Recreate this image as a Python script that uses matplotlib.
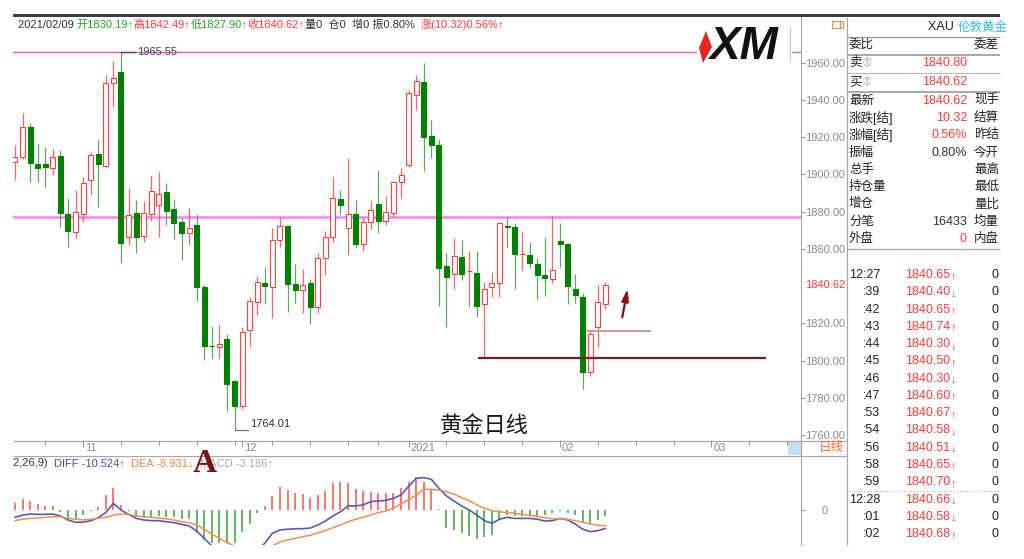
import matplotlib
matplotlib.use("Agg")
import matplotlib.pyplot as plt
from matplotlib.patches import Rectangle, Polygon
import numpy as np
import pandas as pd

plt.rcParams["font.family"] = ["Liberation Sans", "Noto Sans CJK SC", "DejaVu Sans"]

W, H = 1024, 559

# daily XAU candles, 2020-10-20 .. 2021-02-09
opens = [1906.8, 1909.5, 1925.3, 1905.6, 1905.4, 1903.6, 1909.9, 1878.6, 1868.9, 1878.7,
         1897.0, 1910.8, 1904.5, 1948.9, 1955.2, 1866.2, 1879.1, 1867.1, 1878.7, 1883.6,
         1890.7, 1881.4, 1874.6, 1868.7, 1872.8, 1839.7, 1808.4, 1807.5, 1811.4, 1789.1,
         1775.8, 1816.4, 1831.6, 1841.8, 1839.4, 1864.8, 1872.5, 1841.2, 1837.9, 1841.5,
         1828.9, 1854.9, 1866.2, 1886.8, 1871.1, 1878.7, 1862.6, 1874.6, 1884.1, 1875.1,
         1879.1, 1896.1, 1905.1, 1942.7, 1949.8, 1920.6, 1915.8, 1850.8, 1846.5, 1855.8,
         1847.6, 1847.2, 1830.2, 1839.7, 1841.8, 1872.3, 1871.9, 1856.9, 1856.7, 1851.9,
         1846.0, 1843.7, 1864.4, 1862.5, 1838.3, 1834.3, 1794.0, 1818.2, 1830.19]
highs = [1915.8, 1933.1, 1927.8, 1916.2, 1914.9, 1913.5, 1913.1, 1887.2, 1891.6, 1898.8,
         1912.2, 1918.5, 1953.4, 1961.1, 1965.55, 1892.9, 1886.3, 1885.7, 1899.2, 1901.1,
         1895.6, 1886.6, 1876.4, 1882.1, 1878.6, 1840.5, 1818.6, 1819.1, 1814.3, 1789.8,
         1818.2, 1834.3, 1845.4, 1850.1, 1871.1, 1877.3, 1872.8, 1851.9, 1849.0, 1843.7,
         1857.6, 1869.8, 1898.8, 1891.6, 1908.7, 1886.3, 1877.3, 1885.7, 1902.4, 1888.4,
         1896.6, 1903.3, 1945.3, 1953.4, 1959.7, 1929.2, 1918.9, 1857.6, 1865.7, 1864.8,
         1859.0, 1859.0, 1842.4, 1846.9, 1874.6, 1877.3, 1873.8, 1869.8, 1863.5, 1855.0,
         1866.2, 1877.7, 1873.8, 1863.0, 1846.5, 1836.5, 1816.1, 1840.6, 1842.49]
lows = [1897.0, 1908.5, 1896.1, 1896.1, 1893.4, 1899.7, 1871.9, 1861.2, 1865.7, 1874.6,
        1889.0, 1882.7, 1903.3, 1936.4, 1852.3, 1862.1, 1857.6, 1863.9, 1875.1, 1866.4,
        1872.8, 1865.2, 1854.0, 1862.1, 1832.2, 1800.3, 1801.2, 1801.2, 1773.0, 1764.01,
        1773.9, 1807.8, 1824.5, 1830.8, 1822.7, 1861.2, 1826.3, 1830.8, 1825.4, 1819.7,
        1825.7, 1846.0, 1863.9, 1878.7, 1857.3, 1860.3, 1859.0, 1870.7, 1868.7, 1872.8,
        1877.3, 1887.2, 1904.1, 1934.6, 1902.0, 1908.7, 1829.3, 1817.9, 1838.3, 1843.3,
        1829.3, 1823.6, 1802.1, 1834.3, 1834.3, 1860.3, 1838.3, 1848.7, 1850.0, 1832.9,
        1834.7, 1841.5, 1850.4, 1830.4, 1831.1, 1784.6, 1791.7, 1807.5, 1827.90]
closes = [1909.5, 1925.3, 1906.0, 1903.6, 1903.8, 1909.5, 1879.4, 1869.8, 1880.0, 1895.6,
          1910.3, 1905.4, 1949.3, 1951.6, 1863.3, 1878.2, 1866.6, 1879.1, 1891.3, 1889.5,
          1880.5, 1874.1, 1868.4, 1871.1, 1839.4, 1808.0, 1808.0, 1808.8, 1787.4, 1775.8,
          1815.5, 1832.0, 1842.0, 1840.2, 1864.8, 1872.3, 1841.2, 1837.9, 1840.6, 1828.6,
          1854.9, 1866.2, 1887.2, 1883.6, 1878.7, 1862.6, 1874.6, 1880.9, 1875.1, 1879.7,
          1895.8, 1899.7, 1943.6, 1950.3, 1920.3, 1915.8, 1849.9, 1845.1, 1856.2, 1846.4,
          1848.0, 1829.3, 1838.3, 1841.5, 1873.8, 1871.6, 1857.2, 1857.4, 1852.6, 1846.0,
          1844.2, 1848.7, 1862.6, 1840.1, 1835.2, 1794.0, 1814.3, 1831.6, 1840.62]

# MACD(12,26,9) panel
diff = [-4.2, -2.9, -2.3, -2.5, -2.5, -2.3, -3.4, -5.7, -7.0, -7.0,
        -6.1, -4.4, -1.5, 3.8, 0.0, -2.5, -4.8, -5.7, -6.1, -6.1,
        -6.7, -7.2, -8.2, -9.1, -12.0, -16.2, -20.5, -24.0, -27.0, -29.0,
        -28.0, -26.0, -23.0, -19.0, -13.3, -11.4, -11.0, -10.7, -10.7, -10.3,
        -8.6, -6.3, -3.4, -1.0, 2.3, 2.3, 2.9, 4.8, 5.1, 5.5,
        6.7, 8.6, 13.5, 18.1, 18.5, 17.5, 12.4, 8.0, 5.1, 2.3,
        0.0, -2.9, -6.1, -7.6, -5.3, -4.2, -4.8, -4.8, -4.8, -5.3,
        -6.3, -6.1, -4.8, -5.7, -8.0, -11.0, -12.4, -11.8, -10.524]
dea = [-6.1, -5.3, -4.8, -4.6, -4.2, -3.8, -3.8, -4.8, -5.3, -5.7,
       -5.3, -4.8, -4.2, -2.9, -2.3, -2.5, -3.4, -3.8, -4.2, -4.6,
       -5.0, -5.7, -6.7, -7.2, -8.6, -11.0, -13.7, -16.2, -18.7, -20.5,
       -21.5, -22.0, -22.0, -21.5, -20.5, -18.3, -17.1, -16.2, -15.2, -14.5,
       -13.0, -11.8, -10.1, -8.6, -6.7, -5.3, -4.2, -2.9, -1.5, -0.6,
       1.0, 3.5, 6.0, 8.5, 11.8, 11.8, 11.4, 10.5, 9.0, 7.0,
       5.3, 2.9, 1.0, -0.4, -1.0, -1.5, -1.9, -2.5, -3.0, -3.8,
       -4.4, -5.0, -5.1, -5.3, -6.1, -7.0, -8.0, -8.8, -8.931]
macd_hist = [4.2, 6.3, 5.1, 3.4, 2.5, 2.3, -1.0, -4.8, -5.3, -2.9,
             -0.3, 1.5, 8.6, 12.4, 2.9, -0.8, -4.2, -4.8, -3.8, -3.2,
             -3.8, -4.2, -5.3, -5.3, -13.3, -17.1, -18.7, -18.7, -18.7, -19.0,
             -12.4, -8.2, -1.5, 2.3, 8.0, 13.0, 11.4, 9.5, 9.0, 6.7,
             8.6, 10.9, 15.2, 16.2, 15.2, 11.8, 11.0, 10.5, 9.5, 9.9,
             9.5, 12.4, 16.2, 19.0, 16.2, 11.8, 0.6, -10.5, -11.4, -13.3,
             -14.9, -16.8, -15.2, -14.3, -5.7, -2.9, -3.4, -3.4, -2.9, -3.4,
             -2.9, -1.9, -0.6, -1.9, -2.9, -6.7, -7.6, -5.7, -3.186]

price_ticks = [1760, 1780, 1800, 1820, 1860, 1880, 1900, 1920, 1940, 1960]
last_price = 1840.62
resistance_top = 1965.55
resistance_mid = 1877.3
support_low = 1801.6
support_short = 1816.0

# quote panel
quote_labels = ["最新", "涨跌[结]", "涨幅[结]", "振幅", "总手", "持仓量", "增仓", "分笔", "外盘"]
quote_values = ["1840.62", "10.32", "0.56%", "0.80%", "", "", "", "16433", "0"]
quote_right = ["现手", "结算", "昨结", "今开", "最高", "最低", "量比", "均量", "内盘"]
tick_times = ["12:27", ":39", ":42", ":43", ":44", ":45", ":46", ":47", ":53", ":54",
              ":56", ":58", ":59", "12:28", ":01", ":02"]
tick_prices = ["1840.65", "1840.40", "1840.65", "1840.74", "1840.30", "1840.50", "1840.30",
               "1840.60", "1840.67", "1840.58", "1840.51", "1840.65", "1840.70", "1840.66",
               "1840.58", "1840.68"]
tick_dirs = ["↑", "↓", "↑", "↑", "↓", "↑", "↓", "↑", "↑", "↓", "↓", "↑", "↑", "↓", "↓", "↑"]

RED = "#ff3b3b"
RED_WICK = "#ff6464"
GREEN = "#008000"
GREEN_WICK = "#5aa85a"
GREEN_TXT = "#2e9e2e"
DARK = "#222222"
GRAY = "#8a8a8a"
LINE = "#a8a8a8"

dates = pd.bdate_range("2020-10-20", "2021-03-19", freq="C",
                       holidays=["2020-12-25", "2021-01-01"])
XLIM = (-0.26, 103.83)


def px_axes(fig, x0, y0, x1, y1):
    return fig.add_axes([x0 / W, 1 - y1 / H, (x1 - x0) / W, (y1 - y0) / H])


def chain_text(ax, x, y, parts, **kw):
    t = ax.text(x, y, parts[0][0], color=parts[0][1], va="center", ha="left", **kw)
    for s, c in parts[1:]:
        t = ax.annotate(s, xy=(1, 0), xycoords=t, va="bottom", ha="left", color=c, **kw)
    return t


fig = plt.figure(figsize=(W / 100, H / 100), dpi=100)
fig.patch.set_facecolor("white")

# ---- price panel
ax = px_axes(fig, 13, 17, 801, 440)
ax.set_xlim(*XLIM)
ax.set_ylim(1757.4, 1984.5)
for s in ("top", "left", "bottom"):
    ax.spines[s].set_visible(False)
ax.spines["right"].set_color(LINE)
ax.set_xticks([])
ax.yaxis.tick_right()
ax.set_yticks(price_ticks, [f"{v:.2f}" for v in price_ticks])
ax.tick_params(axis="y", length=3, width=0.8, color="#999999", labelcolor=GRAY,
               labelsize=8, pad=14.3)
for lab in ax.get_yticklabels():
    lab.set_horizontalalignment("center")
ax.text(1.0305, last_price, f"{last_price:.2f}", transform=ax.get_yaxis_transform(),
        ha="center", va="center", color=RED, fontsize=8)

ax.axhline(resistance_top, color="#e055e0", lw=1.0, zorder=1)
ax.axhline(resistance_mid, color="#ff7dff", lw=1.8, zorder=1)

body_w = 0.66
for i, (o, h, l, c) in enumerate(zip(opens, highs, lows, closes)):
    up = c >= o
    lo_b, hi_b = min(o, c), max(o, c)
    wick = RED_WICK if up else GREEN_WICK
    edge = "#ff4040" if up else GREEN
    ax.vlines(i, l, lo_b, color=wick, lw=0.9, zorder=2)
    ax.vlines(i, hi_b, h, color=wick, lw=0.9, zorder=2)
    if hi_b - lo_b < 0.7:
        ax.hlines(c, i - body_w / 2, i + body_w / 2, color=edge, lw=1.0, zorder=3)
    else:
        ax.add_patch(Rectangle((i - body_w / 2, lo_b), body_w, hi_b - lo_b,
                               facecolor="white" if up else GREEN, edgecolor=edge,
                               lw=0.8, zorder=3))

# extremes labels
i_hi = int(np.argmax(highs))
i_lo = int(np.argmin(lows))
ax.plot([i_hi, i_hi + 1.85], [highs[i_hi], highs[i_hi]], color="#444444", lw=0.9, zorder=4)
ax.text(i_hi + 2.1, highs[i_hi], f"{highs[i_hi]:.2f}", color="#444444", fontsize=8,
        va="center", ha="left", zorder=4)
ax.plot([i_lo, i_lo, i_lo + 1.8], [lows[i_lo], lows[i_lo] - 1.3, lows[i_lo] - 1.3],
        color="#777777", lw=0.9, zorder=4)
ax.text(i_lo + 2.1, lows[i_lo] + 1.8, f"{lows[i_lo]:.2f}", color="#333333", fontsize=8,
        va="center", ha="left", zorder=4)

# hand-drawn support lines and arrow
ax.hlines(support_low, 61.2, 99.2, color="#7b1c1c", lw=1.6, zorder=4)
ax.hlines(support_short, 75.6, 84.0, color="#c99090", lw=1.3, zorder=4)
ax.annotate("", xy=(81.0, 1840.1), xytext=(80.15, 1821.8),
            arrowprops=dict(arrowstyle="-|>,head_length=0.7,head_width=0.2",
                            color="#8b1010", lw=1.6), zorder=5)

# ---- date strip
ax_d = px_axes(fig, 13, 440, 801, 455)
ax_d.set_xlim(*XLIM)
ax_d.set_ylim(0, 1)
ax_d.axis("off")
for i, d in enumerate(dates):
    new_month = i > 0 and d.month != dates[i - 1].month
    if d.weekday() == 0 or new_month:
        ax_d.vlines(i, 0.68 if not new_month else 0.55, 1.0, color="#9a9a9a", lw=0.8)
    if new_month:
        lab = str(d.year) if d.month == 1 else f"{d.month:02d}"
        ax_d.text(i + 0.25, 0.45, lab, color=GRAY, fontsize=8, ha="left", va="center",
                  clip_on=True)

# ---- MACD panel
ax_m = px_axes(fig, 13, 455, 801, 545)
ax_m.set_xlim(*XLIM)
ax_m.set_ylim(-20, 31.4)
for s in ("top", "left", "bottom"):
    ax_m.spines[s].set_visible(False)
ax_m.spines["right"].set_color(LINE)
ax_m.set_xticks([])
ax_m.yaxis.tick_right()
ax_m.set_yticks([0], ["0"])
ax_m.tick_params(axis="y", length=3, width=0.8, color="#999999", labelcolor=GRAY,
                 labelsize=8, pad=14.3)
for lab in ax_m.get_yticklabels():
    lab.set_horizontalalignment("center")
xm = np.arange(len(macd_hist))
hist = np.array(macd_hist)
ax_m.vlines(xm, 0, hist, colors=np.where(hist >= 0, "#ff4d4d", "#3b9e3b"), lw=1.1)
ax_m.plot(xm, diff, color="#5a5ab4", lw=1.2)
ax_m.plot(xm, dea, color="#ff8a4c", lw=1.1)

# ---- quote side panel
ax_s = px_axes(fig, 847, 36, 1001, 545)
ax_s.set_xlim(847, 1001)
ax_s.set_ylim(545, 36)
ax_s.axis("off")
kw = dict(fontsize=9, va="center", clip_on=True)
ax_s.text(849, 45, "委比", color=DARK, ha="left", **kw)
ax_s.text(974, 45, "委差", color=DARK, ha="left", **kw)
ax_s.text(849, 63.3, "卖", color=DARK, ha="left", **kw)
ax_s.text(863, 63.3, "①", color="#888888", ha="left", fontsize=6, va="center")
ax_s.text(967, 63.3, "1840.80", color=RED, ha="right", **kw)
ax_s.text(849, 82.3, "买", color=DARK, ha="left", **kw)
ax_s.text(863, 82.3, "①", color="#888888", ha="left", fontsize=6, va="center")
ax_s.text(967, 82.3, "1840.62", color=RED, ha="right", **kw)
for y, w, c in [(55, 1.2, "#999999"), (73.3, 0.8, "#bbbbbb"), (91.7, 1.2, "#999999"),
                (249.3, 1.0, "#aaaaaa")]:
    ax_s.hlines(y, 847, 1000, color=c, lw=w)
val_colors = [RED, RED, RED, "#333333", DARK, DARK, DARK, "#333333", RED]
for r, (lab, val, rl) in enumerate(zip(quote_labels, quote_values, quote_right)):
    y = 101 + 17.22 * r
    ax_s.text(849, y, lab, color=DARK, ha="left", **kw)
    if val:
        ax_s.text(967, y, val, color=val_colors[r], ha="right", **kw)
    ax_s.text(974, y, rl, color=DARK, ha="left", **kw)

for r, (t, p, dr) in enumerate(zip(tick_times, tick_prices, tick_dirs)):
    y = 275 + 17.27 * r
    ax_s.text(880, y, t, color=DARK, ha="right", **kw)
    ax_s.text(950, y, p, color=RED, ha="right", **kw)
    ax_s.text(950.5, y + 1, dr, color=RED if dr == "↑" else GREEN_TXT, ha="left",
              fontsize=8, va="center")
    ax_s.text(999, y, "0", color=DARK, ha="right", **kw)
ax_s.hlines(490.7, 850, 1000, color="#aaaaaa", lw=0.8, linestyles=(0, (1, 2)))

ax_h = px_axes(fig, 847, 17, 1007, 36)
ax_h.set_xlim(847, 1007)
ax_h.set_ylim(36, 17)
ax_h.axis("off")
chain_text(ax_h, 928, 27.5, [("XAU ", DARK), ("伦敦黄金", "#33bde0")], fontsize=9, clip_on=True)

# ---- overlay: frame lines, titles, logo
ov = fig.add_axes([0, 0, 1, 1])
ov.set_xlim(0, W)
ov.set_ylim(H, 0)
ov.axis("off")
ov.patch.set_visible(False)
ov.add_patch(Rectangle((13, 13.5), 987, 3.5, color="#3c3c46", lw=0))
ov.vlines(847, 17, 545, color=LINE, lw=0.9)
ov.vlines(801, 440, 455, color=LINE, lw=0.9)
ov.hlines([440.5, 455.5], 13, 847, color=LINE, lw=0.9)
ov.hlines(36.5, 847, 1000, color="#999999", lw=0.9)
ov.add_patch(Rectangle((788, 441), 12.5, 14, color="#c5dcf5", lw=0))
ov.text(831, 448, "日线", color="#ff6a30", fontsize=9, ha="center", va="center")
ov.add_patch(Rectangle((832, 21), 11, 7, facecolor="none", edgecolor="#f08a50", lw=0.9))
ov.vlines(840, 21, 28, color="#f08a50", lw=0.9)

chain_text(ov, 18, 25, [("2021/02/09 ", "#333333"), ("开1830.19↑", GREEN_TXT),
                        ("高1842.49↑", RED), ("低1827.90↑", GREEN_TXT),
                        ("收1840.62↑", RED), ("量0  仓0  增0 振0.80%  ", "#333333"),
                        ("涨(10.32)0.56%↑", RED)], fontsize=8)
chain_text(ov, 13, 463.5, [("2,26,9)  ", "#333333"), ("DIFF -10.524↑  ", "#4a4aa8"),
                           ("DEA -8.931↓  ", "#ff7f3f"), ("MACD -3.186↑", "#aaaaaa")],
           fontsize=8)
ov.text(205, 464, "A", family="Liberation Serif", weight="bold", fontsize=24,
        color="#7a1414", ha="center", va="center")
ov.text(484, 427, "黄金日线", color="#1a1a1a", fontsize=16, ha="center", va="center")

# XM logo covering the top line
ov.add_patch(Rectangle((697, 25), 95, 41, color="white", lw=0))
ov.add_patch(Polygon([(706, 31), (712, 47), (703, 63), (699, 48)], closed=True,
                     color="#e52521", lw=0))
ov.text(709, 47, "XM", fontsize=33, weight="bold", style="italic", color="#111111",
        ha="left", va="center")
ov.vlines(790, 27, 62, color="#cccccc", lw=0.9)

fig.savefig("out.png", dpi=100, facecolor="white")
plt.close(fig)
